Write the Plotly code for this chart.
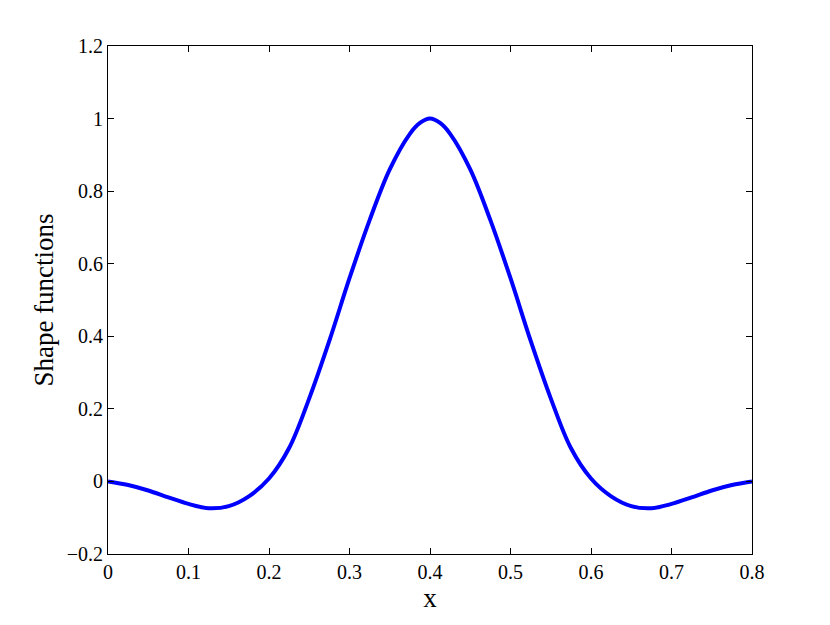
import plotly.graph_objects as go

## values (symmetric about x = 0.4)
x_vals = [0.0, 0.025, 0.05, 0.075, 0.1, 0.125, 0.15, 0.175, 0.2, 0.225, 0.25,
          0.275, 0.3, 0.325, 0.35, 0.375, 0.3875, 0.4,
          0.4125, 0.425, 0.45, 0.475, 0.5, 0.525, 0.55, 0.575, 0.6, 0.625, 0.65,
          0.675, 0.7, 0.725, 0.75, 0.775, 0.8]
y_vals = [0.0, -0.010, -0.025, -0.044, -0.062, -0.074, -0.068, -0.041, 0.008, 0.092, 0.229,
          0.388, 0.560, 0.720, 0.860, 0.958, 0.988, 1.0,
          0.988, 0.958, 0.860, 0.720, 0.560, 0.388, 0.229, 0.092, 0.008, -0.041, -0.068,
          -0.074, -0.062, -0.044, -0.025, -0.010, 0.0]

x_ticks = [0, 0.1, 0.2, 0.3, 0.4, 0.5, 0.6, 0.7, 0.8]
x_labels = ["0", "0.1", "0.2", "0.3", "0.4", "0.5", "0.6", "0.7", "0.8"]
y_ticks = [-0.2, 0, 0.2, 0.4, 0.6, 0.8, 1.0, 1.2]
y_labels = ["\u22120.2", "0", "0.2", "0.4", "0.6", "0.8", "1", "1.2"]

fig = go.Figure()
fig.add_trace(go.Scatter(
    x=x_vals, y=y_vals,
    mode="lines",
    line=dict(color="#0000ff", width=4, shape="spline", smoothing=1.0),
    showlegend=False,
))

axis_style = dict(
    showline=True, linecolor="black", linewidth=1, mirror="ticks",
    ticks="inside", ticklen=6, tickcolor="black", tickwidth=1,
    showgrid=False, zeroline=False,
    tickfont=dict(family="Liberation Serif", size=20, color="black"),
)

fig.update_xaxes(range=[0, 0.8], tickvals=x_ticks, ticktext=x_labels,
                 title=dict(text="x", font=dict(family="Liberation Serif", size=27, color="black"),
                            standoff=4),
                 **axis_style)
fig.update_yaxes(range=[-0.2, 1.2], tickvals=y_ticks, ticktext=y_labels,
                 title=dict(text="Shape functions", font=dict(family="Liberation Serif", size=27, color="black"),
                            standoff=5),
                 **axis_style)

# page has an 8px body margin, so margins are shifted to land the box where the reference has it
fig.update_layout(
    width=830, height=625,
    margin=dict(l=100, r=86, t=38, b=79),
    plot_bgcolor="white", paper_bgcolor="white",
)

fig.write_html("out.html")
